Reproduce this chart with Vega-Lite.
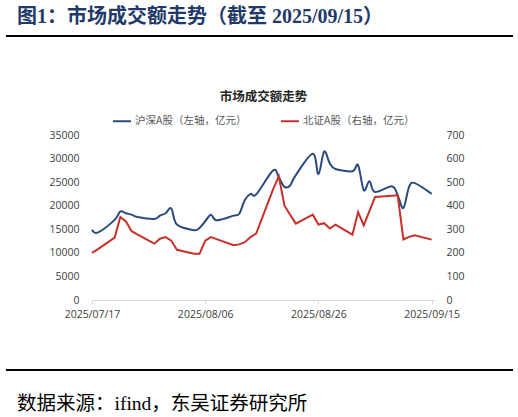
{
  "$schema": "https://vega.github.io/schema/vega-lite/v6.json",
  "background": "white",
  "padding": {"left": 5, "right": 5, "top": 7, "bottom": 0},
  "spacing": 49,
  "resolve": {"scale": {"color": "independent"}, "legend": {"color": "independent"}},
  "config": {
    "view": {"stroke": null},
    "font": "Noto Sans CJK SC",
    "axis": {
      "grid": false,
      "labelFont": "Open Sans, Noto Sans CJK SC",
      "labelFontSize": 10.5,
      "labelColor": "#404040"
    },
    "legend": {"layout": {"top": {"anchor": "middle"}}}
  },
  "datasets": {
    "trade": [
      {"date": "2025-07-17", "hs": 14900, "bj": 200},
      {"date": "2025-07-18", "hs": 14300, "bj": 215},
      {"date": "2025-07-21", "hs": 17000, "bj": 265},
      {"date": "2025-07-22", "hs": 18800, "bj": 352},
      {"date": "2025-07-23", "hs": 18400, "bj": 333},
      {"date": "2025-07-24", "hs": 18100, "bj": 292},
      {"date": "2025-07-25", "hs": 17600, "bj": 278},
      {"date": "2025-07-28", "hs": 17200, "bj": 239},
      {"date": "2025-07-29", "hs": 17900, "bj": 260},
      {"date": "2025-07-30", "hs": 18400, "bj": 267},
      {"date": "2025-07-31", "hs": 19400, "bj": 252},
      {"date": "2025-08-01", "hs": 16000, "bj": 213},
      {"date": "2025-08-04", "hs": 14800, "bj": 196},
      {"date": "2025-08-05", "hs": 15300, "bj": 196},
      {"date": "2025-08-06", "hs": 16700, "bj": 252},
      {"date": "2025-08-07", "hs": 18100, "bj": 267},
      {"date": "2025-08-08", "hs": 16900, "bj": 258},
      {"date": "2025-08-11", "hs": 17900, "bj": 232},
      {"date": "2025-08-12", "hs": 18300, "bj": 236},
      {"date": "2025-08-13", "hs": 21200, "bj": 245},
      {"date": "2025-08-14", "hs": 22500, "bj": 267},
      {"date": "2025-08-15", "hs": 22400, "bj": 282},
      {"date": "2025-08-18", "hs": 27500, "bj": 470},
      {"date": "2025-08-19", "hs": 26000, "bj": 525},
      {"date": "2025-08-20", "hs": 24000, "bj": 400},
      {"date": "2025-08-21", "hs": 24300, "bj": 362},
      {"date": "2025-08-22", "hs": 26500, "bj": 324},
      {"date": "2025-08-25", "hs": 31000, "bj": 362},
      {"date": "2025-08-26", "hs": 26700, "bj": 320},
      {"date": "2025-08-27", "hs": 31500, "bj": 326},
      {"date": "2025-08-28", "hs": 29000, "bj": 303},
      {"date": "2025-08-29", "hs": 27800, "bj": 320},
      {"date": "2025-09-01", "hs": 27300, "bj": 277},
      {"date": "2025-09-02", "hs": 28600, "bj": 373},
      {"date": "2025-09-03", "hs": 23300, "bj": 317},
      {"date": "2025-09-04", "hs": 25200, "bj": 377},
      {"date": "2025-09-05", "hs": 22900, "bj": 437},
      {"date": "2025-09-08", "hs": 24100, "bj": 442},
      {"date": "2025-09-09", "hs": 22200, "bj": 444},
      {"date": "2025-09-10", "hs": 19500, "bj": 257},
      {"date": "2025-09-11", "hs": 24000, "bj": 268},
      {"date": "2025-09-12", "hs": 24800, "bj": 275},
      {"date": "2025-09-15", "hs": 22500, "bj": 256}
    ],
    "frame": [
      {"x1": -86, "x2": 421, "v": 1}
    ]
  },
  "vconcat": [
    {
      "width": 421,
      "height": 5,
      "title": {
        "text": "图1：市场成交额走势（截至 2025/09/15）",
        "anchor": "start",
        "font": "Liberation Serif, Noto Sans CJK SC",
        "fontSize": 20,
        "fontWeight": "bold",
        "color": "#1f3a68",
        "dx": 12,
        "offset": 8
      },
      "data": {"name": "frame"},
      "mark": {"type": "rule", "color": "black", "strokeWidth": 2},
      "encoding": {
        "x": {"field": "x1", "type": "quantitative", "scale": {"domain": [0, 421], "nice": false, "zero": false}, "axis": null},
        "x2": {"field": "x2"},
        "y": {"field": "v", "type": "quantitative", "scale": {"domain": [0, 1]}, "axis": null}
      }
    },
    {
      "width": 343,
      "height": 165,
      "title": {
        "text": "市场成交额走势",
        "anchor": "middle",
        "fontSize": 12.5,
        "fontWeight": "bold",
        "color": "#262626",
        "offset": 8
      },
      "data": {"name": "trade", "format": {"parse": {"date": "date:'%Y-%m-%d'"}}},
      "encoding": {
        "x": {
          "field": "date",
          "type": "temporal",
          "scale": {"domain": [{"year": 2025, "month": 7, "date": 17}, {"year": 2025, "month": 9, "date": 15, "hours": 14}]},
          "axis": {
            "title": null,
            "format": "%Y/%m/%d",
            "values": [
              {"year": 2025, "month": 7, "date": 17},
              {"year": 2025, "month": 8, "date": 6},
              {"year": 2025, "month": 8, "date": 26},
              {"year": 2025, "month": 9, "date": 15}
            ],
            "domainColor": "#d9d9d9",
            "tickColor": "#d9d9d9",
            "tickSize": 4,
            "labelPadding": 5,
            "labelFlush": false,
            "labelOverlap": false
          }
        },
        "color": {
          "field": "series",
          "type": "nominal",
          "scale": {"domain": ["hs", "bj"], "range": ["#2b4b7e", "#c8302a"]},
          "legend": {
            "title": null,
            "orient": "top",
            "direction": "horizontal",
            "symbolType": "stroke",
            "symbolSize": 324,
            "symbolStrokeWidth": 2,
            "labelFontSize": 10.5,
            "labelColor": "#595959",
            "labelOffset": 3,
            "labelLimit": 300,
            "columnPadding": 30,
            "offset": 8,
            "labelExpr": "datum.label == 'hs' ? '沪深A股（左轴，亿元）' : '北证A股（右轴，亿元）'"
          }
        }
      },
      "layer": [
        {
          "transform": [{"fold": ["hs"], "as": ["series", "value"]}],
          "mark": {"type": "line", "interpolate": "cardinal", "strokeWidth": 2},
          "encoding": {
            "y": {
              "field": "value",
              "type": "quantitative",
              "scale": {"domain": [0, 35000]},
              "axis": {
                "title": null,
                "orient": "left",
                "values": [0, 5000, 10000, 15000, 20000, 25000, 30000, 35000],
                "format": "d",
                "domain": false,
                "ticks": false,
                "labelPadding": 13,
                "minExtent": 86
              }
            }
          }
        },
        {
          "transform": [{"fold": ["bj"], "as": ["series", "value"]}],
          "mark": {"type": "line", "strokeWidth": 2},
          "encoding": {
            "y": {
              "field": "value",
              "type": "quantitative",
              "scale": {"domain": [0, 700]},
              "axis": {
                "title": null,
                "orient": "right",
                "values": [0, 100, 200, 300, 400, 500, 600, 700],
                "format": "d",
                "domain": false,
                "ticks": false,
                "labelPadding": 11
              }
            }
          }
        }
      ],
      "resolve": {"scale": {"y": "independent"}}
    },
    {
      "width": 421,
      "height": 5,
      "title": {
        "text": "数据来源：ifind，东吴证券研究所",
        "orient": "bottom",
        "anchor": "start",
        "font": "Liberation Serif, Noto Sans CJK SC",
        "fontSize": 19.5,
        "fontWeight": "normal",
        "color": "black",
        "dx": 12,
        "offset": 20
      },
      "data": {"name": "frame"},
      "mark": {"type": "rule", "color": "black", "strokeWidth": 2},
      "encoding": {
        "x": {"field": "x1", "type": "quantitative", "scale": {"domain": [0, 421], "nice": false, "zero": false}, "axis": null},
        "x2": {"field": "x2"},
        "y": {"field": "v", "type": "quantitative", "scale": {"domain": [0, 1]}, "axis": null}
      }
    }
  ]
}
